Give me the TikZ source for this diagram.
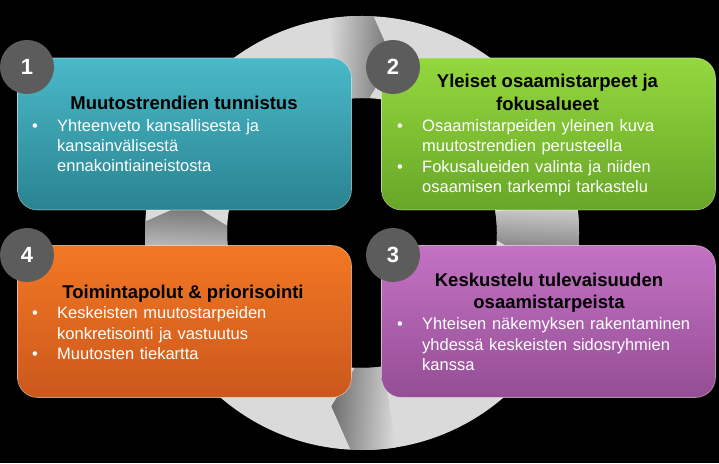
\documentclass[tikz,border=0pt]{standalone}
\usepackage{fontspec}
\setmainfont{Liberation Sans}
\usetikzlibrary{calc}
\definecolor{ringgrey}{RGB}{218,218,218}
\definecolor{ringdark}{RGB}{110,110,110}
\definecolor{numgrey}{RGB}{92,92,92}
\definecolor{tealtop}{RGB}{74,185,200}
\definecolor{tealbot}{RGB}{42,131,145}
\definecolor{greentop}{RGB}{148,216,62}
\definecolor{greenbot}{RGB}{104,166,40}
\definecolor{orangetop}{RGB}{243,120,36}
\definecolor{orangebot}{RGB}{203,88,28}
\definecolor{purpletop}{RGB}{196,114,196}
\definecolor{purplebot}{RGB}{148,78,148}
\def\ringpart(#1:#2){\fill[ringgrey] ($(ring)+(#1:217)$) arc[start angle=#1, end angle=#2, radius=217] -- ($(ring)+({#2-7}:176)$) -- ($(ring)+(#2:135)$) arc[start angle=#2, end angle=#1, radius=135] -- ($(ring)+({#1-7}:176)$) -- cycle;}
\def\ringhead(#1){\shade[top color=ringdark, bottom color=ringgrey, shading angle={#1-180}] ($(ring)+({#1+12}:217)$) arc[start angle={#1+12}, end angle=#1, radius=217] -- ($(ring)+({#1-7}:176)$) -- ($(ring)+(#1:135)$) arc[start angle=#1, end angle={#1+12}, radius=135] -- cycle;}
\newcommand{\bul}{\makebox[25pt][l]{\textbullet}}
\newcommand{\widespace}{\spaceskip=5.6pt\relax}
\tikzset{
	box/.style={rounded corners=20pt, minimum width=334pt, minimum height=152pt, inner sep=0pt, draw=white!55, line width=0.6pt, draw opacity=0.5},
	numdot/.style={circle, fill=numgrey, minimum size=54pt, inner sep=0pt, text=white, font=\fontsize{22}{22}\selectfont\bfseries},
	boxtitle/.style={anchor=base, inner sep=0pt, text=black, font=\fontsize{18.5}{20}\selectfont\bfseries},
	boxline/.style={anchor=base west, inner sep=0pt, text=white, font=\fontsize{16.5}{20}\selectfont\widespace}
}
\begin{document}
\begin{tikzpicture}[x=1pt, y=1pt]
		%%%%% START %%%%%
		
		\fill[black] (0, 0) rectangle (719, 463);
		\useasboundingbox (0, 0) rectangle (719, 463);
		
		\coordinate (ring) at (362, 230);
		\foreach \a in {87, -3, -93, -183}
			\ringpart(\a:\a-90);
		\foreach \a in {87, -3, -93, -183}
			\ringhead(\a);
		
		\node[box, top color=tealtop, bottom color=tealbot] (trend) at (184.5, 329) {};
		\node[box, top color=greentop, bottom color=greenbot] (needs) at (548.5, 329) {};
		\node[box, top color=purpletop, bottom color=purplebot] (talk) at (548.5, 141.5) {};
		\node[box, top color=orangetop, bottom color=orangebot] (paths) at (184.5, 141.5) {};
		
		\node[numdot] (n1) at (27, 396) {1};
		\node[numdot] (n2) at (393, 396) {2};
		\node[numdot] (n3) at (393, 208) {3};
		\node[numdot] (n4) at (27, 208) {4};
		
		% 1
		\node[boxtitle] (trendT) at (184, 353) {Muutostrendien tunnistus};
		\node[boxline] (trendA) at (32, 331) {\bul Yhteenveto kansallisesta ja};
		\node[boxline] (trendB) at (57, 311) {kansainvälisestä};
		\node[boxline] (trendC) at (57, 291) {ennakointiaineistosta};
		
		% 2
		\node[boxtitle] (needsT) at (547.5, 375) {Yleiset osaamistarpeet ja};
		\node[boxtitle] (needsU) at (547.5, 352) {fokusalueet};
		\node[boxline] (needsA) at (397, 331) {\bul Osaamistarpeiden yleinen kuva};
		\node[boxline] (needsB) at (422, 311) {muutostrendien perusteella};
		\node[boxline] (needsC) at (397, 290) {\bul Fokusalueiden valinta ja niiden};
		\node[boxline] (needsD) at (422, 270) {osaamisen tarkempi tarkastelu};
		
		% 3
		\node[boxtitle] (talkT) at (549, 176) {Keskustelu tulevaisuuden};
		\node[boxtitle] (talkU) at (549, 154) {osaamistarpeista};
		\node[boxline] (talkA) at (397, 133) {\bul Yhteisen näkemyksen rakentaminen};
		\node[boxline] (talkB) at (422, 113) {yhdessä keskeisten sidosryhmien};
		\node[boxline] (talkC) at (422, 93) {kanssa};
		
		% 4
		\node[boxtitle] (pathsT) at (183, 164) {Toimintapolut \& priorisointi};
		\node[boxline] (pathsA) at (32, 144) {\bul Keskeisten muutostarpeiden};
		\node[boxline] (pathsB) at (57, 124) {konkretisointi ja vastuutus};
		\node[boxline] (pathsC) at (32, 103) {\bul Muutosten tiekartta};
		
		%%%%% END %%%%%
\end{tikzpicture}
\end{document}
